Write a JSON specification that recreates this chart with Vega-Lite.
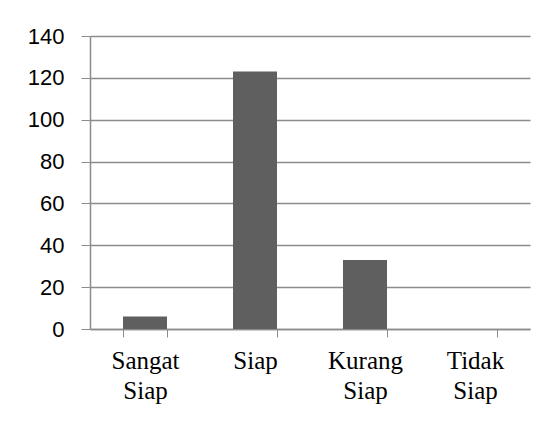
{
  "$schema": "https://vega.github.io/schema/vega-lite/v6.json",
  "autosize": {"type": "none"},
  "width": 440,
  "height": 293,
  "padding": {"left": 90, "top": 36, "right": 24, "bottom": 92},
  "background": "white",
  "data": {"values": [
    {"kategori": "Sangat Siap", "jumlah": 6},
    {"kategori": "Siap", "jumlah": 123},
    {"kategori": "Kurang Siap", "jumlah": 33},
    {"kategori": "Tidak Siap", "jumlah": 0}
  ]},
  "mark": {"type": "bar", "color": "#5f5f5f"},
  "encoding": {
    "x": {
      "field": "kategori", "type": "nominal", "sort": null,
      "scale": {"paddingInner": 0.6, "paddingOuter": 0.3},
      "axis": {
        "title": null, "labelAngle": 0, "grid": false,
        "labelExpr": "split(datum.label, ' ')",
        "labelFont": "Liberation Serif", "labelFontSize": 25, "labelColor": "#000",
        "labelLineHeight": 30, "labelPadding": 11,
        "tickBand": "extent", "tickSize": 8, "tickColor": "#8c8c8c",
        "domainColor": "#8c8c8c", "domainWidth": 1.5
      }
    },
    "y": {
      "field": "jumlah", "type": "quantitative",
      "scale": {"domain": [0, 140]},
      "axis": {
        "title": null, "values": [0, 20, 40, 60, 80, 100, 120, 140],
        "labelFont": "Liberation Sans", "labelFontSize": 22, "labelColor": "#000",
        "labelPadding": 17, "tickSize": 9, "tickColor": "#8c8c8c",
        "gridColor": "#8c8c8c", "gridWidth": 1.5,
        "domainColor": "#8c8c8c", "domainWidth": 1.5
      }
    }
  },
  "config": {"view": {"stroke": null}}
}
